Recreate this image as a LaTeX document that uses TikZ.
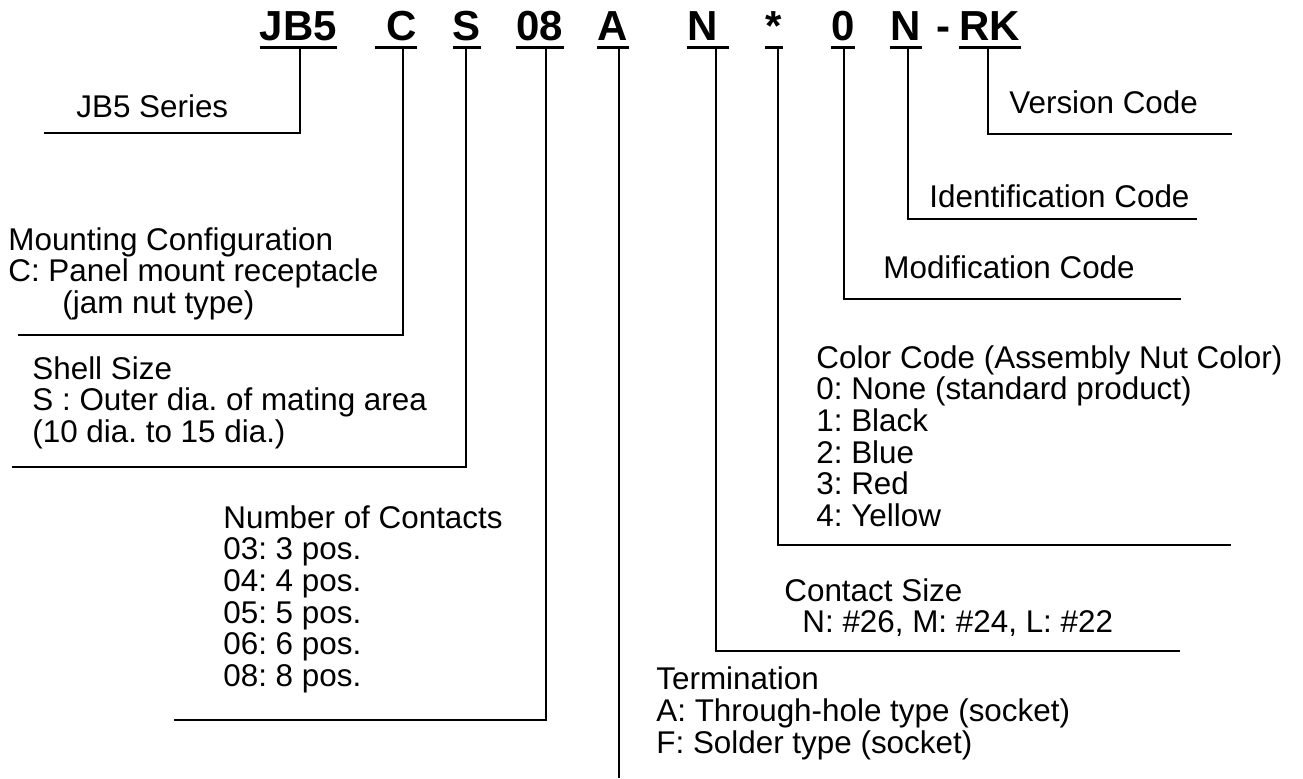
\documentclass[tikz,border=0pt]{standalone}
\usepackage{fontspec}
\setmainfont{Liberation Sans}
\usepackage{tikz}
\frenchspacing

\begin{document}
\begin{tikzpicture}[x=0.5pt,y=-0.5pt,
  code/.style={font=\fontsize{21}{21}\selectfont\bfseries, inner sep=0, anchor=base},
  lbl/.style={font=\fontsize{15.7}{15.85}\selectfont, inner sep=0, anchor=base west, align=left},
  uline/.style={line width=1.5pt},
  leg/.style={line width=1.2pt}]
\useasboundingbox (0,0) rectangle (1303,778);
% part number, all on one baseline
\node[code] (jb) at (298.5,40) {JB5};
\node[code, text width=21pt, align=right] (c) at (396,40) {C};
\node[code] (s) at (467,40) {S};
\node[code] (ob) at (540,40) {08};
\node[code] (a) at (613,40) {A};
\node[code, text width=21pt, align=left] (n) at (708,40) {N};
\node[code] (st) at (774,40) {*};
\node[code] (z) at (843,40) {0};
\node[code] (id) at (906,40) {N};
\node[code] (hy) at (943.5,40) {-};
\node[code] (rk) at (990,40) {RK};
\draw[uline] ([yshift=-3.5pt]jb.base west) -- ([yshift=-3.5pt]jb.base east);
\draw[uline] ([yshift=-3.5pt]c.base west) -- ([yshift=-3.5pt]c.base east);
\draw[uline] ([yshift=-3.5pt]s.base west) -- ([yshift=-3.5pt]s.base east);
\draw[uline] ([yshift=-3.5pt]ob.base west) -- ([yshift=-3.5pt]ob.base east);
\draw[uline] ([yshift=-3.5pt]a.base west) -- ([yshift=-3.5pt]a.base east);
\draw[uline] ([yshift=-3.5pt]n.base west) -- ([yshift=-3.5pt]n.base east);
\draw[uline] ([yshift=-3.5pt]st.base west) -- ([yshift=-3.5pt]st.base east);
\draw[uline] ([yshift=-3.5pt]z.base west) -- ([yshift=-3.5pt]z.base east);
\draw[uline] ([yshift=-3.5pt]id.base west) -- ([yshift=-3.5pt]id.base east);
\draw[uline] ([yshift=-3.5pt]rk.base west) -- ([yshift=-3.5pt]rk.base east);

% labels, placed by the baseline of their last line
\node[lbl] (series) at (76,117) {JB5 Series};
\node[lbl] (mount) at (8,313.4) {Mounting Configuration\\C: Panel mount receptacle\\\hspace*{27pt}(jam nut type)};
\node[lbl] (shell) at (32,442.4) {Shell Size\\S : Outer dia. of mating area\\(10 dia. to 15 dia.)};
\node[lbl] (contacts) at (223,686.5) {Number of Contacts\\03: 3 pos.\\04: 4 pos.\\05: 5 pos.\\06: 6 pos.\\08: 8 pos.};
\node[lbl] (term) at (656,753) {Termination\\A: Through-hole type (socket)\\F: Solder type (socket)};
\node[lbl] (csize) at (784,632.7) {Contact Size\\\hspace*{9pt}N: \#26, M: \#24, L: \#22};
\node[lbl] (color) at (816,526.5) {Color Code (Assembly Nut Color)\\0: None (standard product)\\1: Black\\2: Blue\\3: Red\\4: Yellow};
\node[lbl] (modif) at (883,278) {Modification Code};
\node[lbl] (ident) at (929,207) {Identification Code};
\node[lbl] (version) at (1009,113) {Version Code};

% rule ends
\coordinate (jbEnd) at (44,133);
\coordinate (cEnd) at (18,335);
\coordinate (sEnd) at (12,467);
\coordinate (obEnd) at (174,720);
\coordinate (aEnd) at (619,778);
\coordinate (nEnd) at (1180,651);
\coordinate (stEnd) at (1231,545);
\coordinate (zEnd) at (1181,299);
\coordinate (idEnd) at (1197,219);
\coordinate (rkEnd) at (1232,134);

\draw[leg] ([xshift=0.75pt,yshift=-3.5pt]jb.base) |- (jbEnd);
\draw[leg] ([xshift=3.5pt,yshift=-3.5pt]c.base) |- (cEnd);
\draw[leg] ([xshift=-0.5pt,yshift=-3.5pt]s.base) |- (sEnd);
\draw[leg] ([xshift=3pt,yshift=-3.5pt]ob.base) |- (obEnd);
\draw[leg] ([xshift=3pt,yshift=-3.5pt]a.base) -- (aEnd);
\draw[leg] ([xshift=4pt,yshift=-3.5pt]n.base) |- (nEnd);
\draw[leg] ([xshift=2pt,yshift=-3.5pt]st.base) |- (stEnd);
\draw[leg] ([xshift=0.5pt,yshift=-3.5pt]z.base) |- (zEnd);
\draw[leg] ([xshift=1pt,yshift=-3.5pt]id.base) |- (idEnd);
\draw[leg] ([xshift=-1pt,yshift=-3.5pt]rk.base) |- (rkEnd);
\end{tikzpicture}
\end{document}
